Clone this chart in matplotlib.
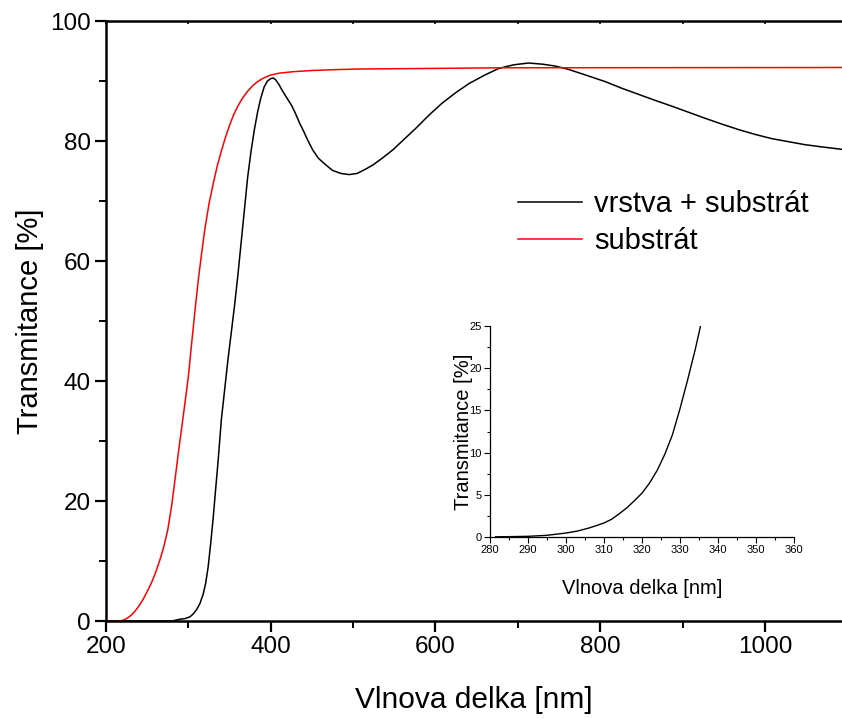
import matplotlib
matplotlib.use("Agg")
import matplotlib.pyplot as plt
from matplotlib.ticker import MultipleLocator

plt.rcParams['font.family'] = ['Liberation Sans', 'DejaVu Sans']

# --- data: vrstva + substrát (main) ---
wl_film = [200, 280, 290, 296, 302, 306, 310, 314, 318, 321, 324, 327, 330, 333,
           336, 340, 344, 348, 352, 356, 360, 364, 368, 372, 376, 380, 384, 388,
           392, 396, 400, 403, 406, 410, 414, 419, 425, 430, 435, 440, 445, 451,
           458, 467, 475, 485, 495, 505, 515, 524, 535, 548, 562, 576, 592, 608,
           625, 641, 660, 677, 695, 713, 730, 745, 760, 780, 806, 826, 846, 866,
           887, 907, 927, 948, 968, 988, 1008, 1028, 1048, 1070, 1094]
t_film = [0, 0, 0.3, 0.4, 0.7, 1.2, 1.9, 2.9, 4.5, 6.3, 9, 12.8, 17, 21.8,
          26.5, 33.5, 38.5, 43.5, 48, 52.5, 57.5, 63, 68.5, 74, 78.2, 81.8, 84.8, 87.2,
          89, 90, 90.4, 90.5, 90.2, 89.4, 88.4, 87.3, 86.0, 84.6, 83, 81.6, 80.1, 78.5,
          77.1, 76, 75.1, 74.6, 74.4, 74.6, 75.3, 76, 77.1, 78.5, 80.3, 82.1, 84.3, 86.3,
          88.1, 89.6, 91, 92.1, 92.7, 93, 92.8, 92.5, 92, 91.1, 89.9, 88.8, 87.8, 86.8,
          85.8, 84.8, 83.8, 82.8, 81.9, 81.1, 80.4, 79.9, 79.4, 79, 78.6]

# --- data: substrát ---
wl_sub = [200, 215, 220, 225, 230, 235, 240, 245, 250, 255, 260, 265, 270, 275,
          280, 284, 288, 292, 296, 300, 304, 308, 312, 316, 320, 325, 330, 335,
          340, 345, 350, 355, 360, 366, 372, 378, 384, 390, 400, 410, 427, 450,
          480, 507, 600, 677, 1094]
t_sub = [0, 0, 0.1, 0.4, 0.9, 1.6, 2.5, 3.6, 4.9, 6.3, 8, 10, 12.3, 15.2,
         19.5, 23.8, 28.2, 32.3, 36.5, 40.8, 46.3, 51.7, 56.8, 61.2, 65.3, 69.5, 72.8, 75.8,
         78.3, 80.6, 82.6, 84.4, 85.8, 87.2, 88.3, 89.2, 89.9, 90.4, 91, 91.3, 91.55, 91.75,
         91.9, 92.0, 92.1, 92.2, 92.25]

# --- data: inset (vrstva + substrát, UV edge) ---
wl_inset = [281.5, 285, 290, 295, 300, 303, 306, 308, 310, 312, 314, 316, 318,
            320, 322, 324, 326, 328, 330, 332, 334, 335.4]
t_inset = [0.02, 0.04, 0.08, 0.2, 0.47, 0.7, 1.06, 1.35, 1.66, 2.1, 2.75, 3.45, 4.3,
           5.2, 6.4, 7.9, 9.8, 12.1, 15.2, 18.6, 22.2, 25]

labels = ['vrstva + substrát', 'substrát']
xlabel = 'Vlnova delka [nm]'
ylabel = 'Transmitance [%]'

W, H = 842, 718
fig = plt.figure(figsize=(W / 100, H / 100), dpi=100)

ax = fig.add_axes([106 / W, (H - 621) / H, (W - 106) / W, 600 / H])
ax.plot(wl_film, t_film, color='black', lw=1.1, label=labels[0])
ax.plot(wl_sub, t_sub, color='#ff0000', lw=1.1, label=labels[1])
ax.set_xlim(200, 1093.5)
ax.set_ylim(0, 100)
ax.xaxis.set_major_locator(MultipleLocator(200))
ax.xaxis.set_minor_locator(MultipleLocator(100))
ax.yaxis.set_major_locator(MultipleLocator(20))
ax.yaxis.set_minor_locator(MultipleLocator(10))
for s in ['left', 'bottom', 'top']:
    ax.spines[s].set_linewidth(1.8)
ax.spines['right'].set_visible(False)
ax.tick_params(which='major', direction='out', length=8, width=1.6,
               labelsize=17.5, pad=3)
ax.tick_params(which='minor', direction='out', length=5, width=1.4)
ax.tick_params(axis='x', which='both', top=False, labeltop=False)
ax.set_xlabel(xlabel, fontsize=21.5, labelpad=20)
ax.set_ylabel(ylabel, fontsize=21, labelpad=4)

# tiny ticks on the top spine
axt = ax.secondary_xaxis('top')
axt.xaxis.set_major_locator(MultipleLocator(100))
axt.tick_params(direction='in', length=2.5, width=1.2, labeltop=False)
axt.spines['top'].set_visible(False)

ax.legend(frameon=False, fontsize=21, handlelength=2.2, handletextpad=0.4,
          labelspacing=0.32, borderpad=0, borderaxespad=0, loc='upper left',
          bbox_to_anchor=(518 / W, (H - 190) / H), bbox_transform=fig.transFigure)

# inset
axi = fig.add_axes([490 / W, (H - 537) / H, 304 / W, 211 / H])
axi.plot(wl_inset, t_inset, color='black', lw=1.0)
axi.set_xlim(280, 360)
axi.set_ylim(0, 25)
axi.xaxis.set_major_locator(MultipleLocator(10))
axi.xaxis.set_minor_locator(MultipleLocator(5))
axi.yaxis.set_major_locator(MultipleLocator(5))
axi.yaxis.set_minor_locator(MultipleLocator(2.5))
axi.spines['top'].set_visible(False)
axi.spines['right'].set_visible(False)
for s in ['left', 'bottom']:
    axi.spines[s].set_linewidth(0.9)
axi.tick_params(which='major', direction='out', length=4, width=0.8,
                labelsize=8, pad=2)
axi.tick_params(which='minor', direction='out', length=2.5, width=0.8)
axi.set_xlabel(xlabel, fontsize=14.5)
axi.xaxis.set_label_coords(0.5, -0.2)
axi.set_ylabel(ylabel, fontsize=14.5)
axi.yaxis.set_label_coords(-0.055, 0.5)
axi.patch.set_alpha(0)

fig.savefig('out.png', dpi=100)
